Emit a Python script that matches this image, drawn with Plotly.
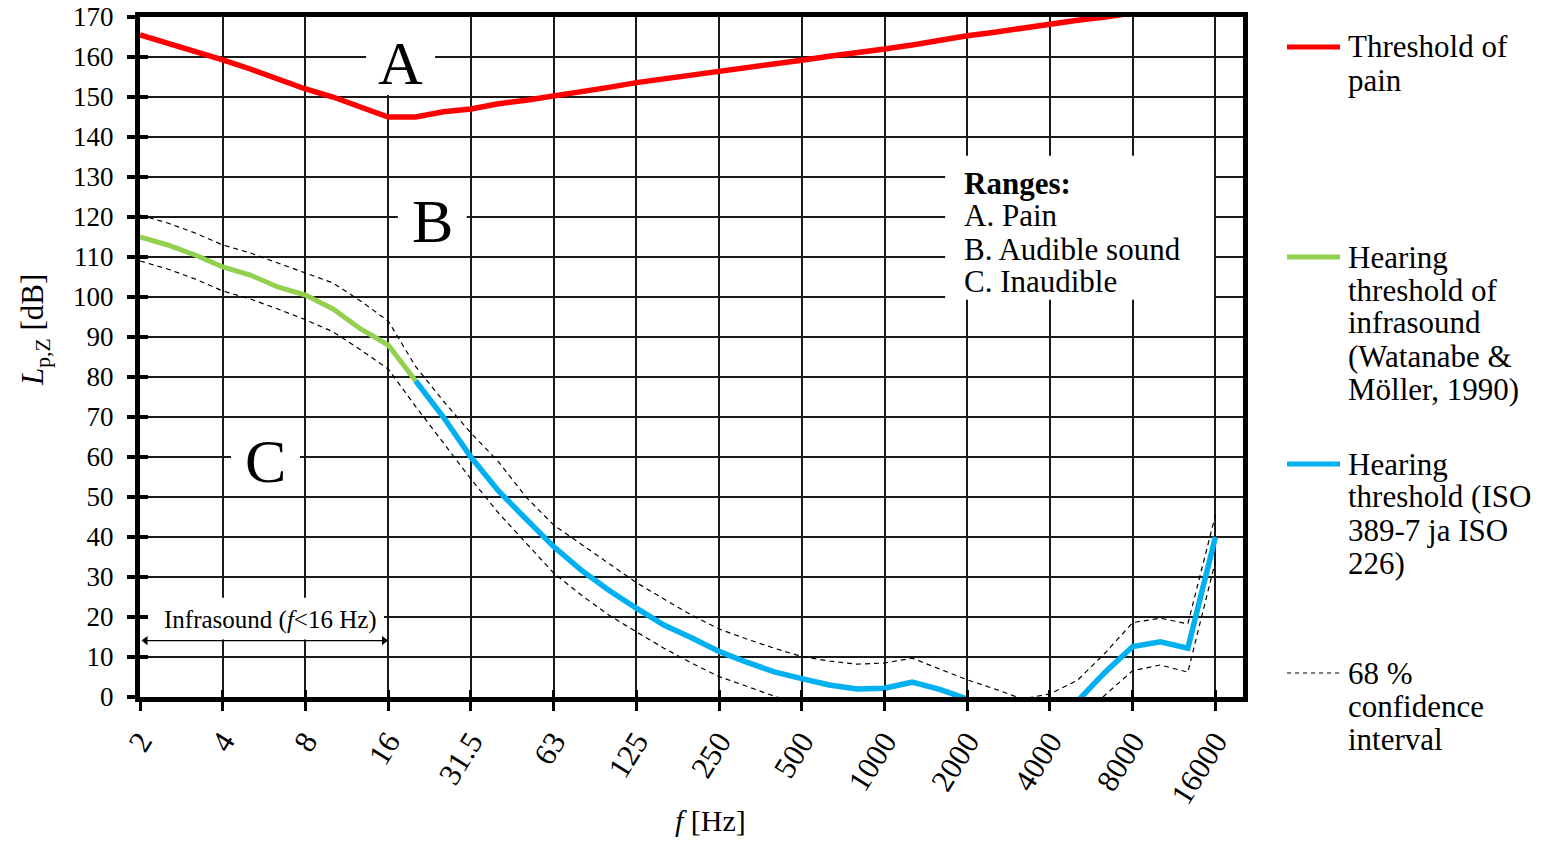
import plotly.graph_objects as go

# One-third-octave band centre frequencies (Hz), used as an evenly spaced category axis
bands = ["2", "2.5", "3.15", "4", "5", "6.3", "8", "10", "12.5", "16", "20", "25",
         "31.5", "40", "50", "63", "80", "100", "125", "160", "200", "250", "315",
         "400", "500", "630", "800", "1000", "1250", "1600", "2000", "2500", "3150",
         "4000", "5000", "6300", "8000", "10000", "12500", "16000", "20000"]
octave_ticks = ["2", "4", "8", "16", "31.5", "63", "125", "250", "500", "1000",
                "2000", "4000", "8000", "16000"]

# Threshold of pain, 2 Hz ... 8 kHz
pain_f = bands[:37]
pain_db = [165.5, 163.5, 161.5, 159.3, 157.0, 154.5, 152.0, 150.0, 147.5, 145.0,
           145.0, 146.3, 147.0, 148.3, 149.2, 150.2, 151.2, 152.4, 153.6, 154.5,
           155.5, 156.2, 157.3, 158.3, 159.2, 160.2, 161.0, 162.0, 163.0, 164.2,
           165.3, 166.2, 167.3, 168.2, 169.2, 170.0, 171.0]

# Hearing threshold of infrasound (Watanabe & Möller 1990), 2 ... 20 Hz
infra_f = bands[:11]
infra_db = [115.0, 113.0, 110.5, 107.5, 105.5, 102.5, 100.5, 97.0, 92.0, 88.0, 79.0]

# Hearing threshold (ISO 389-7 / ISO 226), 20 Hz ... 16 kHz
iso_f = bands[10:40]
iso_db = [79.0, 70.0, 60.0, 51.5, 44.5, 37.6, 31.7, 26.7, 22.2, 18.0, 14.8, 11.4,
          8.7, 6.3, 4.6, 3.0, 2.0, 2.2, 3.7, 1.9, -0.5, -4.2, -6.0, -5.4, -1.0,
          6.2, 12.6, 13.8, 12.2, 40.0]

# 68 % confidence interval, 2 Hz ... 16 kHz
ci_f = bands[:40]
ci_upper = [120.5, 118.5, 116.0, 113.0, 111.0, 108.5, 106.0, 103.5, 99.0, 94.0,
            82.6, 74.0, 66.0, 58.8, 50.0, 43.0, 38.2, 33.5, 28.6, 24.5, 20.5, 17.0,
            14.5, 12.2, 10.1, 9.0, 8.2, 8.5, 9.7, 7.0, 4.3, 2.0, -0.5, 0.8, 4.2,
            11.0, 18.6, 19.7, 18.3, 45.5]
ci_lower = [109.0, 107.0, 104.5, 101.5, 99.5, 97.0, 94.3, 91.3, 86.8, 82.0,
            72.6, 63.5, 54.5, 46.0, 38.5, 31.0, 25.5, 20.5, 16.3, 12.2, 8.5, 5.1,
            2.7, 0.2, -2.0, -3.5, -4.5, -4.0, -3.0, -5.0, -8.0, -10.0, -12.0, -11.0,
            -6.0, 0.5, 6.6, 8.0, 6.2, 34.0]

y_ticks = list(range(0, 171, 10))

FONT = "Liberation Serif"
RED, GREEN, BLUE = "#FF0000", "#92D050", "#00B0F0"

idx = {b: i for i, b in enumerate(bands)}

fig = go.Figure()

fig.add_trace(go.Scatter(x=ci_f, y=ci_upper, mode="lines",
                         line=dict(color="black", width=1.2, dash="5px,4px")))
fig.add_trace(go.Scatter(x=ci_f, y=ci_lower, mode="lines",
                         line=dict(color="black", width=1.2, dash="5px,4px")))
fig.add_trace(go.Scatter(x=pain_f, y=pain_db, mode="lines",
                         line=dict(color=RED, width=5.5)))
fig.add_trace(go.Scatter(x=infra_f, y=infra_db, mode="lines",
                         line=dict(color=GREEN, width=5)))
fig.add_trace(go.Scatter(x=iso_f, y=iso_db, mode="lines",
                         line=dict(color=BLUE, width=5.5)))

# infrasound span (2 ... 16 Hz) as a double-headed arrow, on the band-index overlay axes
fig.add_trace(go.Scatter(x=[0.2, idx["16"] - 0.15], y=[14.1, 14.1], xaxis="x2", yaxis="y2",
                         mode="lines+markers", line=dict(color="black", width=1.2),
                         marker=dict(symbol=["triangle-left", "triangle-right"], size=8,
                                     color="black"),
                         hoverinfo="skip"))

# white panels that interrupt the grid behind labels
def panel(x0, x1, y0, y1):
    fig.add_shape(type="rect", xref="x", yref="y", x0=x0, x1=x1, y0=y0, y1=y1,
                  fillcolor="white", line_width=0, layer="between")

panel(8.2, 10.7, 150.5, 171)       # A
panel(9.35, 11.85, 111.5, 125.5)   # B
panel(3.3, 5.8, 51.5, 65.5)        # C
panel(29.2, 38.95, 99.3, 135.3)    # ranges note
panel(0.1, 8.85, 14.4, 24.8)       # infrasound note

for letter, xi, yv in [("A", 9.45, 158.5), ("B", 10.6, 119.0), ("C", 4.55, 59.0)]:
    fig.add_annotation(x=xi, y=yv, text=letter, showarrow=False,
                       font=dict(family=FONT, size=62, color="black"))

ranges_lines = ["<b>Ranges:</b>", "A. Pain", "B. Audible sound", "C. Inaudible"]
for line, yv in zip(ranges_lines, [128.5, 120.5, 112.0, 104.0]):
    fig.add_annotation(x=29.8, y=yv, text=line, showarrow=False, xanchor="left",
                       font=dict(family=FONT, size=31, color="black"))

fig.add_annotation(x=4.75, y=19.3, text="Infrasound (<i>f</i><16 Hz)", showarrow=False,
                   font=dict(family=FONT, size=25, color="black"))

# axis titles
fig.add_annotation(xref="paper", yref="paper", x=-0.095, y=0.54,
                   xanchor="center", yanchor="middle",
                   text="<i>L</i><sub>p,Z</sub> [dB]", textangle=-90, showarrow=False,
                   font=dict(family=FONT, size=31, color="black"))
fig.add_annotation(xref="paper", yref="paper", x=0.517, y=-0.181,
                   xanchor="center", yanchor="middle",
                   text="<i>f</i> [Hz]", showarrow=False,
                   font=dict(family=FONT, size=30, color="black"))

# legend drawn beside the plot
W, H, L, B = 1103.0, 680.0, 140.0, 697.0
def px(xp):
    return (xp - L) / W
def py(yp):
    return (B - yp) / H

legend = [
    (RED, "solid", 5, ["Threshold of", "pain"], 47),
    (GREEN, "solid", 5, ["Hearing", "threshold of", "infrasound", "(Watanabe &",
                         "Möller, 1990)"], 257),
    (BLUE, "solid", 5, ["Hearing", "threshold (ISO", "389-7 ja ISO", "226)"], 464),
    ("black", "4px,4px", 1.2, ["68 %", "confidence", "interval"], 673),
]
for color, dash, width, lines, y0 in legend:
    fig.add_shape(type="line", xref="paper", yref="paper", x0=px(1287), x1=px(1340),
                  y0=py(y0), y1=py(y0), line=dict(color=color, width=width, dash=dash))
    for k, t in enumerate(lines):
        fig.add_annotation(xref="paper", yref="paper", x=px(1346), y=py(y0 + 33 * k),
                           text=t, showarrow=False, xanchor="left", yanchor="middle",
                           font=dict(family=FONT, size=31, color="black"))

fig.update_layout(
    width=1552, height=841,
    margin=dict(l=140, r=309, t=17, b=144, autoexpand=False),
    paper_bgcolor="white", plot_bgcolor="white",
    showlegend=False,
    font=dict(family=FONT, color="black"),
    xaxis=dict(type="category", categoryorder="array", categoryarray=bands,
               range=[0, 40], tickvals=octave_ticks, ticktext=octave_ticks,
               tickangle=-58, tickfont=dict(family=FONT, size=31, color="black"),
               ticks="outside", ticklen=9, tickwidth=3, tickcolor="black",
               showgrid=True, gridcolor="#1a1a1a", gridwidth=1.5,
               showline=True, linecolor="black", linewidth=5, mirror=True,
               zeroline=False, automargin=False),
    yaxis=dict(range=[0, 170], tickvals=y_ticks,
               tickfont=dict(family=FONT, size=27, color="black"),
               ticks="outside", ticklen=8, tickwidth=4, tickcolor="black",
               ticklabelstandoff=8,
               showgrid=True, gridcolor="#1a1a1a", gridwidth=1.5,
               showline=True, linecolor="black", linewidth=5, mirror=True,
               zeroline=False, automargin=False),
    xaxis2=dict(overlaying="x", anchor="y", range=[0, 40],
                tickvals=[idx[t] for t in octave_ticks], ticks="inside", ticklen=7,
                tickwidth=3, tickcolor="black", showticklabels=False,
                showgrid=False, showline=False, zeroline=False, automargin=False),
    yaxis2=dict(overlaying="y", anchor="x", side="left", range=[0, 170],
                tickvals=y_ticks, ticks="inside", ticklen=8, tickwidth=4,
                tickcolor="black", showticklabels=False,
                showgrid=False, showline=False, zeroline=False, automargin=False),
)

fig.write_html("out.html")
